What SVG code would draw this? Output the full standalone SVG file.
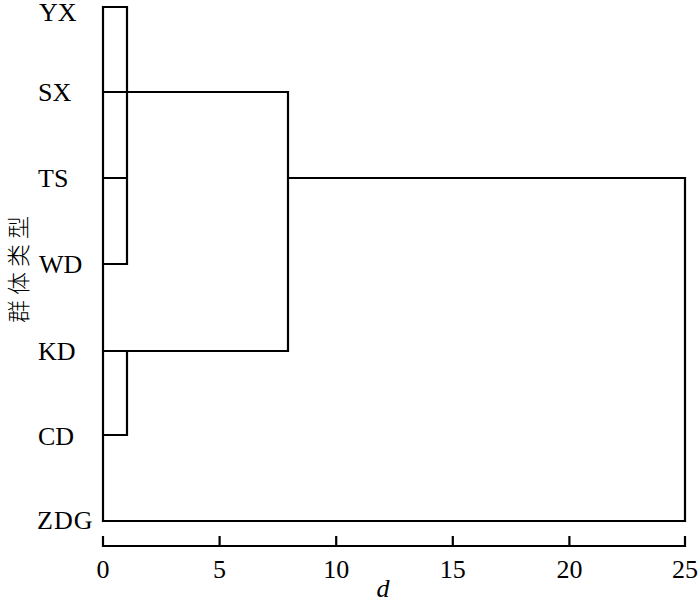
<svg xmlns="http://www.w3.org/2000/svg" width="700" height="603" viewBox="0 0 700 603">
<style>
.ln{fill:none;stroke:#000;stroke-width:2.2;stroke-linecap:square}
.lb{font-family:"Liberation Serif","Times New Roman",serif;font-size:26px;fill:#000}
.tk{font-family:"Liberation Serif","Times New Roman",serif;font-size:26px;fill:#000;text-anchor:middle}
</style>
<rect width="700" height="603" fill="#fff"/>
<g id="labels">
<text class="lb" x="39" y="21">YX</text>
<text class="lb" x="38" y="101">SX</text>
<text class="lb" x="38" y="187">TS</text>
<text class="lb" x="39" y="273">WD</text>
<text class="lb" x="38" y="360">KD</text>
<text class="lb" x="38" y="445">CD</text>
<text class="lb" x="37" y="529" letter-spacing="1">ZDG</text>
</g>
<g id="connectors">
<path class="ln" d="M103,7 H127 V264 M103,92 H288 V351 M103,178 H127 M103,264 H127 M103,351 H288 M127,351 V435 H103 M288,178 H685 V521 H103 M103,7 V521"/>
</g>
<g id="axis">
<path class="ln" d="M103,546 H685 M103,537 V546 M219.6,537 V546 M336.2,537 V546 M452.8,537 V546 M569.4,537 V546 M685,537 V546"/>
<text class="tk" x="103" y="578">0</text>
<text class="tk" x="219.6" y="578">5</text>
<text class="tk" x="336.2" y="578">10</text>
<text class="tk" x="452.8" y="578">15</text>
<text class="tk" x="569.4" y="578">20</text>
<text class="tk" x="685" y="578">25</text>
<text x="383" y="597" font-family="Liberation Serif,serif" font-style="italic" font-size="26" text-anchor="middle">d</text>
<text transform="translate(27,267) rotate(-90)" font-family="Noto Sans CJK SC,sans-serif" font-weight="300" font-size="23" letter-spacing="5" text-anchor="middle">群体类型</text>
</g>
</svg>
